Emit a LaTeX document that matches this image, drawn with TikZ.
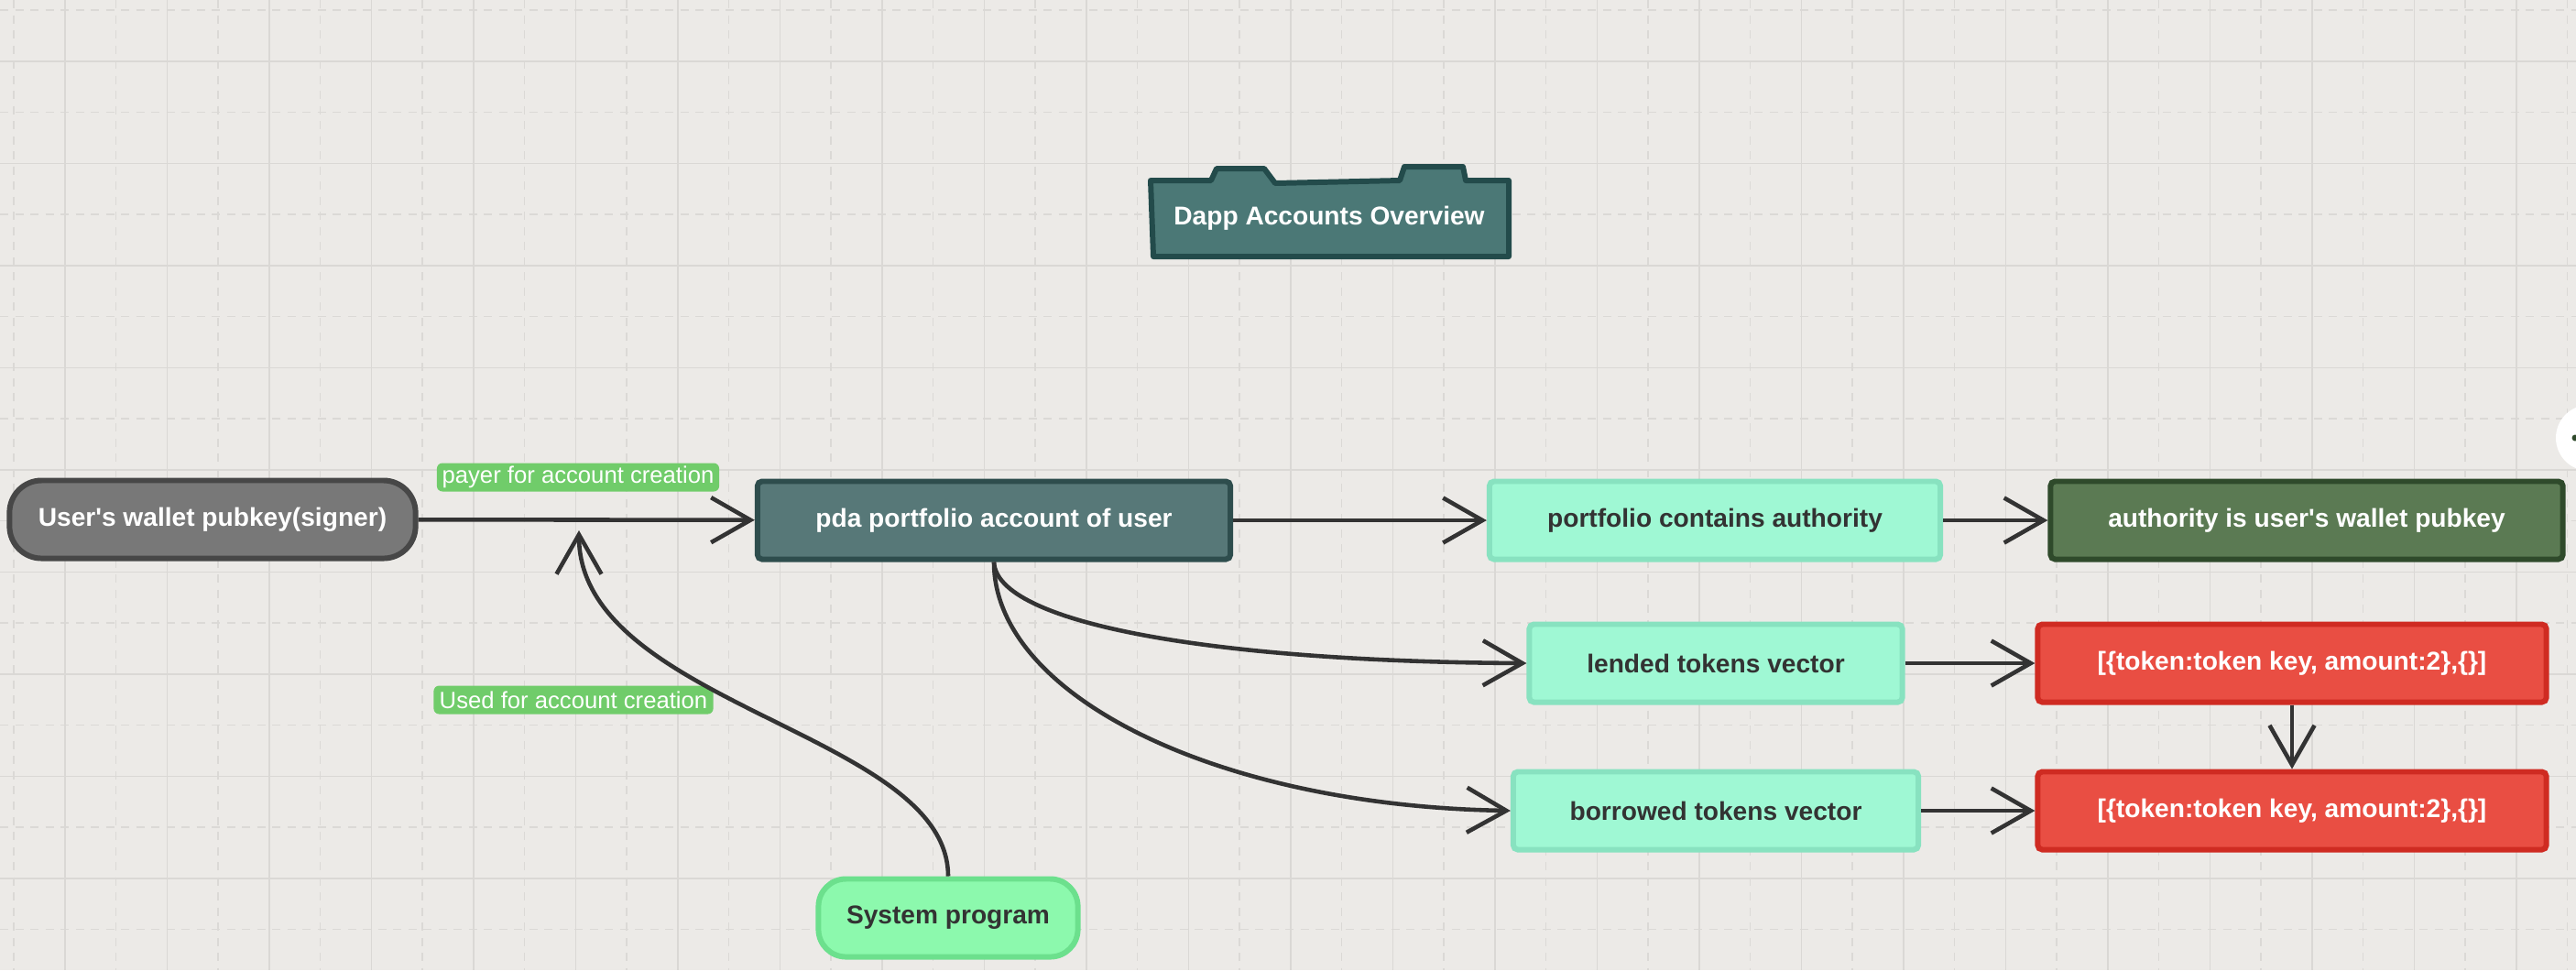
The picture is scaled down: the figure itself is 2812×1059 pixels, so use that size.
\documentclass[tikz,border=0pt]{standalone}
\usepackage{fontspec}
\newfontfamily\boardfont{Liberation Sans}
\usepackage{tikz}
\usetikzlibrary{arrows.meta}
\usetikzlibrary{calc}

\definecolor{paper}{HTML}{ECEAE7}
\definecolor{gridsolid}{HTML}{DAD8D5}
\definecolor{griddash}{HTML}{DBD9D6}
\definecolor{walletfill}{HTML}{787878}
\definecolor{walletline}{HTML}{474747}
\definecolor{titlefill}{HTML}{4B7876}
\definecolor{titleline}{HTML}{234B4B}
\definecolor{pdafill}{HTML}{577878}
\definecolor{pdaline}{HTML}{2E4D4D}
\definecolor{mintfill}{HTML}{9FF8D4}
\definecolor{mintline}{HTML}{88E2C0}
\definecolor{mossfill}{HTML}{5B7A53}
\definecolor{mossline}{HTML}{2F4A2B}
\definecolor{redfill}{HTML}{E94E43}
\definecolor{redline}{HTML}{CF2B22}
\definecolor{sysfill}{HTML}{8CF9AD}
\definecolor{sysline}{HTML}{6CE08D}
\definecolor{tagfill}{HTML}{70CC6A}
\definecolor{ink}{HTML}{333333}

\begin{document}
\begin{tikzpicture}[x=0.01cm, y=-0.01cm,
  box/.style={draw, line width=1.7pt, minimum height=0.85cm, inner sep=0pt,
    font=\boardfont\fontsize{8}{10}\selectfont\bfseries},
  walletbox/.style={box, fill=walletfill, draw=walletline, text=white, rounded corners=0.35cm},
  pdabox/.style={box, fill=pdafill, draw=pdaline, text=white, rounded corners=0.05cm},
  mintbox/.style={box, fill=mintfill, draw=mintline, text=ink, rounded corners=0.05cm},
  mossbox/.style={box, fill=mossfill, draw=mossline, text=white, rounded corners=0.05cm},
  redbox/.style={box, fill=redfill, draw=redline, text=white, rounded corners=0.05cm},
  sysbox/.style={box, fill=sysfill, draw=sysline, text=ink, rounded corners=0.3cm},
  tag/.style={fill=tagfill, text=white, rounded corners=0.06cm, inner sep=0pt,
    minimum height=0.31cm, font=\boardfont\fontsize{7.3}{9}\selectfont},
  link/.style={draw=ink, line width=1.3pt, -{Straight Barb[length=4.3mm,width=4.9mm]}}]

  % Background and grid
  \useasboundingbox (0,0) rectangle (2812,1059);
  \clip (0,0) rectangle (2812,1059);
  \fill[paper] (0,0) rectangle (2812,1059);
  \foreach \k in {0,...,9}
    \draw[griddash, line width=0.4pt, dash pattern=on 0.09cm off 0.075cm]
      (0,11+111.5*\k) -- (2812,11+111.5*\k);
  \foreach \k in {0,...,25}
    \draw[griddash, line width=0.4pt, dash pattern=on 0.09cm off 0.075cm]
      (15+111.5*\k,0) -- (15+111.5*\k,1059);
  \foreach \k in {0,...,8}
    \draw[gridsolid, line width=0.5pt] (0,67+111.5*\k) -- (2812,67+111.5*\k);
  \foreach \k in {0,...,24}
    \draw[gridsolid, line width=0.5pt] (71+111.5*\k,0) -- (71+111.5*\k,1059);

  % Title tab
  \draw[fill=titlefill, draw=titleline, line width=1.7pt, line join=round]
    (1256,197) -- (1322,197) -- (1328,184) -- (1380,184) -- (1392,200)
    -- (1528,197) -- (1533,182) -- (1597,182) -- (1600,197) -- (1647,197)
    -- (1647,280) -- (1259,280) -- cycle;
  \node[text=white, font=\boardfont\fontsize{8}{10}\selectfont\bfseries]
    (title) at (1451,238) {Dapp Accounts Overview};

  % Nodes
  \node[walletbox, minimum width=4.43cm] (wallet) at (232,567) {User's wallet pubkey(signer)};
  \node[pdabox, minimum width=5.16cm] (pda) at (1085,568) {pda portfolio account of user};
  \node[mintbox, minimum width=4.92cm] (portfolio) at (1872,568) {portfolio contains authority};
  \node[mossbox, minimum width=5.59cm] (authority) at (2518,568) {authority is user's wallet pubkey};
  \node[mintbox, minimum width=4.07cm] (lended) at (1873,724) {lended tokens vector};
  \node[mintbox, minimum width=4.42cm] (borrowed) at (1873,885) {borrowed tokens vector};
  \node[redbox, minimum width=5.55cm] (lendvec) at (2502,724) {[\{token:token key, amount:2\},\{\}]};
  \node[redbox, minimum width=5.55cm] (borrowvec) at (2502,885) {[\{token:token key, amount:2\},\{\}]};
  \node[sysbox, minimum width=2.83cm] (system) at (1035,1002) {System program};

  % Labels
  \node[tag, minimum width=3.08cm] (payer) at (631,521) {payer for account creation};
  \node[tag, minimum width=3.05cm] (used) at (626,764) {Used for account creation};

  % Edges
  \coordinate (join) at (632,579);
  \draw[link] (wallet) -- (pda);
  \draw[link] (system.north) .. controls (1035,800) and (632,770) .. (join);
  \draw[link] (pda) -- (portfolio);
  \draw[link] (portfolio) -- (authority);
  \draw[link] (pda.south) .. controls (1088,680) and (1320,722) .. (lended.west);
  \draw[link] (pda.south) .. controls (1085,760) and (1330,880) .. (borrowed.west);
  \draw[link] (lended) -- (lendvec);
  \draw[link] (borrowed) -- (borrowvec);
  \draw[link] (lendvec) -- (borrowvec);

  % Side handle
  \fill[white] (2826,478) circle (0.36cm);
  \fill[mossline] (2811,478) circle (0.035cm);
\end{tikzpicture}
\end{document}
